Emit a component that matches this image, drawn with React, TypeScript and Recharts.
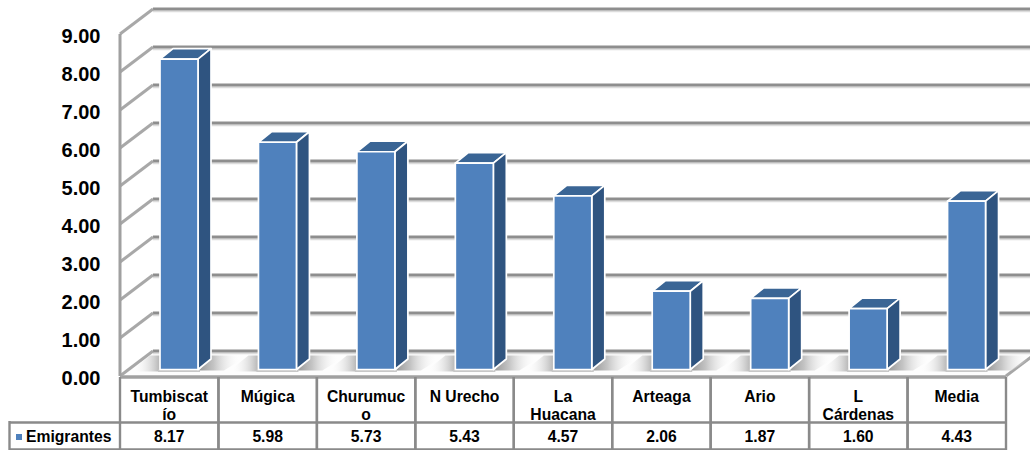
import React from 'react';
import { BarChart, Bar, XAxis, YAxis, CartesianGrid } from 'recharts';

const categories = ['Tumbiscatío', 'Múgica', 'Churumuco', 'N Urecho', 'La Huacana', 'Arteaga', 'Ario', 'L Cárdenas', 'Media'];
const categoryLines = [['Tumbiscat', 'ío'], ['Múgica'], ['Churumuc', 'o'], ['N Urecho'], ['La', 'Huacana'], ['Arteaga'], ['Ario'], ['L', 'Cárdenas'], ['Media']];
const emigrantes = [8.17, 5.98, 5.73, 5.43, 4.57, 2.06, 1.87, 1.6, 4.43];
const valueLabels = ['8.17', '5.98', '5.73', '5.43', '4.57', '2.06', '1.87', '1.60', '4.43'];
const yTicks = [0, 1, 2, 3, 4, 5, 6, 7, 8, 9];
const seriesName = 'Emigrantes';

const data = categories.map((name, i) => ({ name, value: emigrantes[i], idx: i }));

const DX = 33, DY = -25;
const FONT = '"Liberation Sans", Arial, sans-serif';
const LINE = '#8e8e8e';
const TABLE = '#8a8a8a';

const Grid3D = (p: any) => {
  const { x1, y1, x2 } = p;
  const bx = x1 + DX, by = y1 + DY;
  const isFloor = Math.abs(y1 - 376) < 1;
  return (
    <g>
      {isFloor && (
        <g>
          <polygon points={`${x1},${y1} ${bx},${by} 1040,${by} ${x2},${y1}`} fill="#fdfdfd" />
          <line x1={x2} y1={y1} x2={x2 + DX} y2={by} stroke="#a6a6a6" strokeWidth={3} />
          <line x1={x1} y1={y1 + 1} x2={x2} y2={y1 + 1} stroke="#a0a0a0" strokeWidth={3.5} />
        </g>
      )}
      <line x1={bx} y1={by + 2.4} x2={1035} y2={by + 2.4} stroke="#dcdcdc" strokeWidth={1.6} />
      <line x1={bx} y1={by} x2={1035} y2={by} stroke={LINE} strokeWidth={3.2} />
      <line x1={x1} y1={y1} x2={bx} y2={by} stroke="#a8a8a8" strokeWidth={3} />
    </g>
  );
};

const Box3D = (p: any) => {
  const { x, y, width, height } = p;
  const fx = x + 10, fy = y - 6.5;
  const dx = 13, dy = -10.5;
  const r = fx + width, b = fy + height;
  return (
    <g stroke="#ffffff" strokeWidth={1.7} strokeLinejoin="round">
      <polygon points={`${r + 1},${b + 1} ${r + 26},${b + 1} ${r + 50},${b - 14} ${r + 13},${b - 14}`} fill="url(#shadow)" stroke="none" />
      <polygon points={`${fx - 30},${b + 2} ${fx},${b + 2} ${fx},${b - 14} ${fx - 10},${b - 14}`} fill="url(#shadowL)" stroke="none" />
      <rect x={fx - 2} y={b} width={width + 4} height={2.5} fill="#c8c8c8" stroke="none" />
      <polygon points={`${fx},${fy} ${fx + dx},${fy + dy} ${r + dx},${fy + dy} ${r},${fy}`} fill="#3a6595" />
      <polygon points={`${r},${fy} ${r + dx},${fy + dy} ${r + dx},${b + dy} ${r},${b}`} fill="#2f5480" />
      <rect x={fx} y={fy} width={width} height={height} fill="#4f81bd" />
    </g>
  );
};

const TableTick = (p: any) => {
  const { x, payload, index } = p;
  const w = 98.44;
  const left = x - w / 2;
  const lines = categoryLines[index] || [payload.value];
  return (
    <g fontFamily={FONT} fontWeight={700} fontSize={15.7} fill="#000" textAnchor="middle">
      <line x1={left} y1={377} x2={left} y2={450} stroke={TABLE} strokeWidth={2.4} />
      <line x1={left + w} y1={377} x2={left + w} y2={450} stroke={TABLE} strokeWidth={2.4} />
      <line x1={left} y1={422.5} x2={left + w} y2={422.5} stroke={TABLE} strokeWidth={2.4} />
      <line x1={left} y1={449.5} x2={left + w} y2={449.5} stroke={TABLE} strokeWidth={2.4} />
      {lines.map((l: string, i: number) => (
        <text key={i} x={x} y={401.5 + i * 18.5}>{l}</text>
      ))}
      <text x={x} y={441.5}>{valueLabels[index]}</text>
      {index === 0 && (
        <g>
          <line x1={9} y1={422.5} x2={left} y2={422.5} stroke={TABLE} strokeWidth={2.4} />
          <line x1={9} y1={449.5} x2={left} y2={449.5} stroke={TABLE} strokeWidth={2.4} />
          <line x1={9.5} y1={421} x2={9.5} y2={450} stroke={TABLE} strokeWidth={2.4} />
          <rect x={16} y={434} width={6} height={6} fill="#4f81bd" />
          <text x={26} y={441.5} textAnchor="start">{seriesName}</text>
        </g>
      )}
    </g>
  );
};

const YTick = (p: any) => (
  <text x={100.5} y={p.y + 9} textAnchor="end" fontFamily={FONT} fontWeight={700} fontSize={20} fill="#000">
    {p.payload.value.toFixed(2)}
  </text>
);

export default function App() {
  return (
    <div style={{ position: 'absolute', left: 0, top: 0, width: 1030, height: 450, overflow: 'hidden', background: '#fff' }}>
      <BarChart width={1030} height={450} data={data} margin={{ top: 34, right: 24, bottom: 0, left: 60 }} barSize={38}>
        <defs>
          <linearGradient id="shadow" x1="0" y1="0" x2="1" y2="0">
            <stop offset="0" stopColor="#9a9a9a" />
            <stop offset="0.3" stopColor="#c4c4c4" />
            <stop offset="0.85" stopColor="#ffffff" stopOpacity={0} />
          </linearGradient>
          <linearGradient id="shadowL" x1="0" y1="0" x2="1" y2="0">
            <stop offset="0.1" stopColor="#ffffff" stopOpacity={0} />
            <stop offset="1" stopColor="#b4b4b4" />
          </linearGradient>
        </defs>
        <CartesianGrid vertical={false} horizontal={Grid3D as any} />
        <XAxis dataKey="name" interval={0} height={74} axisLine={false} tickLine={false} tick={TableTick as any} />
        <YAxis
          domain={[0, 9]}
          ticks={yTicks}
          width={60}
          interval={0}
          axisLine={{ stroke: '#a0a0a0', strokeWidth: 3 }}
          tickLine={false}
          tick={YTick as any}
        />
        <Bar dataKey="value" name={seriesName} isAnimationActive={false} shape={Box3D as any} />
      </BarChart>
    </div>
  );
}
